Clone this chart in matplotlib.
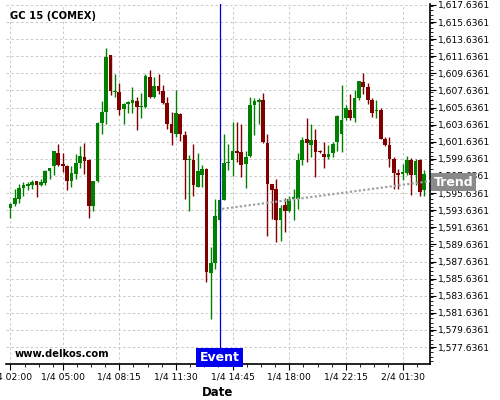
import matplotlib
matplotlib.use("Agg")
import matplotlib.pyplot as plt
import matplotlib.transforms as mtransforms
from matplotlib.ticker import FixedLocator, MultipleLocator, FuncFormatter
import numpy as np

# 15-minute bars, GC 15 (COMEX)
opens = [
    1593.86, 1594.33, 1594.92, 1596.20, 1596.52, 1596.64, 1597.02, 1596.64, 1596.82, 1598.23,
    1598.81, 1600.38, 1599.05, 1598.78, 1597.06, 1597.92, 1599.21, 1599.87, 1599.48, 1594.13,
    1597.06, 1603.81, 1605.10, 1611.77, 1607.50, 1607.47, 1605.50, 1606.10, 1606.12, 1606.38,
    1605.75, 1605.72, 1609.16, 1606.89, 1608.14, 1607.55, 1606.18, 1603.69, 1602.60, 1604.86,
    1602.40, 1599.48, 1599.56, 1596.36, 1597.81, 1598.50, 1586.30, 1587.50, 1592.54, 1594.88,
    1599.16, 1599.48, 1600.53, 1600.45, 1599.01, 1599.95, 1605.91, 1606.30, 1606.50, 1601.50,
    1596.67, 1596.06, 1592.46, 1594.22, 1593.55, 1594.90, 1595.00, 1599.56, 1602.02, 1601.24,
    1601.82, 1600.57, 1600.26, 1599.80, 1600.33, 1601.62, 1602.60, 1604.47, 1605.33, 1604.36,
    1606.81, 1608.64, 1608.06, 1606.50, 1605.20, 1605.33, 1602.02, 1601.24, 1599.68, 1598.00,
    1597.92, 1598.00, 1599.56, 1597.73, 1599.48, 1595.97,
]
highs = [
    1594.45, 1596.09, 1596.75, 1596.94, 1596.94, 1597.14, 1597.10, 1597.34, 1598.39, 1598.60,
    1600.60, 1601.43, 1600.33, 1598.93, 1598.78, 1600.18, 1601.12, 1601.55, 1599.60, 1597.10,
    1603.90, 1606.38, 1612.55, 1611.80, 1609.62, 1608.52, 1606.20, 1606.40, 1608.00, 1606.89,
    1607.40, 1609.62, 1610.09, 1609.23, 1609.54, 1608.26, 1606.89, 1605.13, 1607.67, 1605.00,
    1602.91, 1600.07, 1601.43, 1600.38, 1598.90, 1598.60, 1589.34, 1595.00, 1595.00, 1602.60,
    1601.43, 1603.96, 1603.96, 1603.77, 1600.57, 1606.89, 1606.81, 1606.81, 1607.35, 1602.50,
    1596.75, 1597.26, 1594.20, 1595.12, 1595.27, 1596.17, 1600.33, 1602.20, 1604.36, 1603.77,
    1603.19, 1600.70, 1601.62, 1601.23, 1601.62, 1604.75, 1608.26, 1605.90, 1607.20, 1607.75,
    1608.80, 1609.70, 1608.52, 1606.81, 1606.50, 1605.60, 1602.20, 1602.20, 1599.90, 1598.50,
    1599.00, 1599.95, 1599.70, 1599.68, 1599.68, 1598.30,
]
lows = [
    1592.69, 1594.10, 1594.53, 1595.35, 1596.00, 1596.17, 1595.19, 1596.50, 1596.55, 1597.26,
    1597.81, 1598.78, 1598.11, 1596.05, 1596.36, 1597.34, 1598.58, 1597.84, 1592.78, 1593.51,
    1596.90, 1602.52, 1603.77, 1607.08, 1606.90, 1604.75, 1603.77, 1605.05, 1605.05, 1603.07,
    1604.47, 1605.60, 1606.77, 1606.80, 1607.28, 1606.03, 1603.19, 1601.23, 1602.20, 1601.74,
    1595.00, 1593.55, 1595.30, 1596.30, 1596.30, 1585.24, 1580.96, 1586.80, 1592.40, 1594.80,
    1598.39, 1597.60, 1599.28, 1597.53, 1596.28, 1599.80, 1602.40, 1603.69, 1601.50, 1590.59,
    1592.66, 1589.92, 1590.00, 1591.10, 1593.40, 1592.46, 1593.83, 1598.90, 1599.28, 1599.87,
    1597.53, 1600.30, 1598.62, 1599.68, 1599.80, 1600.57, 1600.45, 1604.16, 1604.16, 1603.96,
    1606.50, 1607.20, 1606.03, 1604.55, 1604.47, 1602.00, 1601.10, 1598.70, 1596.17, 1596.17,
    1597.14, 1597.73, 1595.40, 1596.55, 1595.30, 1595.27,
]
closes = [
    1594.33, 1595.03, 1596.20, 1596.56, 1596.75, 1596.94, 1596.64, 1596.94, 1598.19, 1598.54,
    1600.53, 1598.93, 1598.85, 1597.06, 1598.00, 1599.16, 1599.95, 1599.40, 1594.13, 1597.02,
    1603.81, 1605.10, 1611.57, 1607.59, 1607.60, 1605.33, 1606.07, 1606.25, 1606.50, 1605.72,
    1605.85, 1609.31, 1606.89, 1608.14, 1607.59, 1606.18, 1603.66, 1602.67, 1605.01, 1602.60,
    1599.56, 1599.68, 1596.55, 1598.19, 1598.43, 1586.41, 1587.50, 1592.93, 1594.88, 1599.16,
    1599.28, 1600.57, 1600.30, 1598.89, 1599.80, 1605.91, 1606.42, 1606.50, 1601.62, 1596.67,
    1595.97, 1592.46, 1593.95, 1593.55, 1594.96, 1595.19, 1599.48, 1601.90, 1601.50, 1601.90,
    1600.45, 1600.40, 1599.87, 1600.26, 1601.35, 1604.63, 1604.24, 1605.53, 1604.47, 1606.81,
    1608.76, 1608.06, 1606.58, 1605.01, 1605.33, 1602.02, 1601.24, 1599.68, 1598.00, 1597.73,
    1598.08, 1599.48, 1597.73, 1599.40, 1595.77, 1597.84,
]

tick_bars = [0, 12, 25, 38, 51, 64, 77, 90]
tick_labels = ["1/4 02:00", "1/4 05:00", "1/4 08:15", "1/4 11:30",
               "1/4 14:45", "1/4 18:00", "1/4 22:15", "2/4 01:30"]
y_ticks = np.arange(1577.6361, 1618.0, 2.0)

event_bar = 48
trend_bars = [48.6, 96.3]
trend_prices = [1593.79, 1597.03]

UP = "#008000"
DOWN = "#800000"

o = np.array(opens)
h = np.array(highs)
l = np.array(lows)
c = np.array(closes)
x = np.arange(len(o))
colors = np.where(c >= o, UP, DOWN)

fig = plt.figure(figsize=(5, 4), dpi=100)
ax = fig.add_axes([0.012, 0.09, 0.848, 0.90])

ax.grid(True, which="major", color="#c8c8c8", linestyle=(0, (2.5, 2.5)), linewidth=0.7)
ax.set_axisbelow(True)

ax.vlines(x, l, h, colors=colors, linewidth=1.0, zorder=2)
body = np.maximum(np.abs(c - o), 0.1)
ax.bar(x, body, bottom=np.minimum(o, c), width=0.85, color=colors, linewidth=0, zorder=3)

ax.axvline(event_bar, color="#0000cc", linewidth=0.9, zorder=4)
ax.plot(trend_bars, trend_prices, color="#a0a0a0", linestyle=(0, (1, 1)),
        linewidth=1.6, zorder=4, clip_on=False)

ax.set_xlim(-1, 96.3)
ax.set_ylim(1575.65, 1617.75)

ax.yaxis.tick_right()
ax.yaxis.set_major_locator(FixedLocator(y_ticks))
ax.yaxis.set_minor_locator(MultipleLocator(0.5))
ax.yaxis.set_major_formatter(FuncFormatter(lambda v, p: f"{v:,.4f}"))
ax.xaxis.set_major_locator(FixedLocator(tick_bars))
ax.set_xticklabels(tick_labels)
minor_x = [t + k * 13 / 4 for t in tick_bars for k in (1, 2, 3)]
ax.xaxis.set_minor_locator(FixedLocator(minor_x))

ax.tick_params(axis="both", which="major", labelsize=6.6, length=4, width=0.8, pad=2)
ax.tick_params(axis="both", which="minor", length=2, width=0.6)

for side in ("top", "left"):
    ax.spines[side].set_visible(False)
for side in ("bottom", "right"):
    ax.spines[side].set_linewidth(1.2)

ax.set_xlabel("Date", fontsize=8.5, fontweight="bold", labelpad=3)

ax.text(0.009, 0.968, "GC 15 (COMEX)", transform=ax.transAxes, fontsize=7.2,
        fontweight="bold", ha="left", va="center")
ax.text(0.021, 0.028, "www.delkos.com", transform=ax.transAxes, fontsize=7.2,
        fontweight="bold", ha="left", va="center")

trans = mtransforms.blended_transform_factory(ax.transData, ax.transAxes)
ax.text(event_bar, 0.0, "Event", transform=trans, fontsize=9, fontweight="bold",
        color="white", ha="center", va="bottom", zorder=6,
        bbox=dict(boxstyle="square,pad=0.25", facecolor="#0000ee", edgecolor="none"))

trans_y = mtransforms.blended_transform_factory(ax.transAxes, ax.transData)
ax.text(1.008, trend_prices[1] - 0.1, "Trend", transform=trans_y, fontsize=9,
        fontweight="bold", color="white", ha="left", va="center", zorder=6, clip_on=False,
        bbox=dict(boxstyle="square,pad=0.2", facecolor="#8a8a8a", edgecolor="none"))

fig.savefig("out.png", dpi=100)
